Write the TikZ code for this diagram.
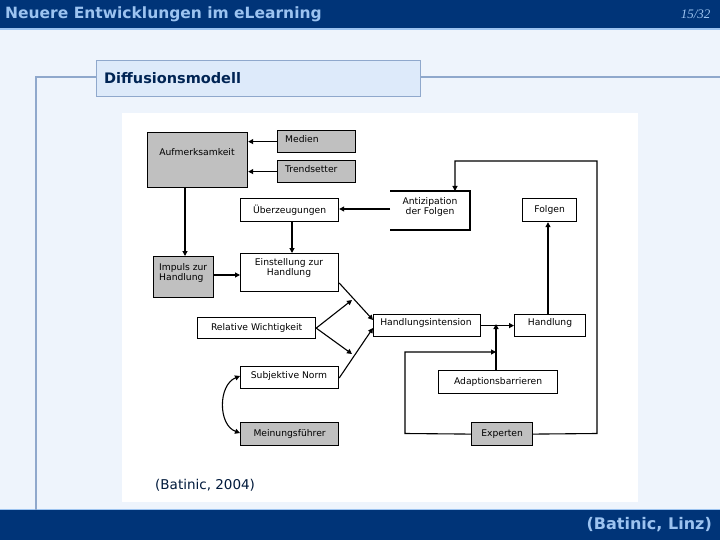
\documentclass[tikz,border=0pt]{standalone}
\usepackage{fontspec}
\setmainfont{DejaVu Sans}
\newfontfamily\serifit{Liberation Serif}
\usetikzlibrary{arrows.meta}
\definecolor{navy}{HTML}{003478}
\definecolor{lblue}{HTML}{9CC3F0}
\definecolor{bgc}{HTML}{EEF4FC}
\definecolor{boxc}{HTML}{DDEAFA}
\definecolor{frm}{HTML}{8FA8CC}
\definecolor{gr}{HTML}{C0C0C0}
\newcommand{\dfont}{\fontsize{9.2}{10.5}\selectfont}
\begin{document}
\begin{tikzpicture}[x=1pt,y=-1pt,
  bx/.style={draw,line width=1.2pt,anchor=north west,inner sep=0pt,align=center,font=\dfont},
  gbx/.style={bx,fill=gr},
  ar/.style={line width=1.1pt,-{Triangle[length=5pt,width=5pt]}},
  tx/.style={font=\dfont,inner sep=0pt,align=center}]
\useasboundingbox (0,0) rectangle (720,540);
\fill[bgc] (0,0) rectangle (720,540);
\fill[navy] (0,0) rectangle (720,28);
\draw[lblue,line width=1.5pt] (0,29) -- (720,29);
\fill[navy] (0,510) rectangle (720,540);
\draw[lblue,line width=1.5pt] (0,509.5) -- (720,509.5);
\node[anchor=west,text=lblue,inner sep=0pt,font=\bfseries\fontsize{15.5}{17}\selectfont] (title) at (5,14) {Neuere Entwicklungen im eLearning};
\node[anchor=east,text=lblue,font=\serifit\itshape\fontsize{13}{14}\selectfont] (pg) at (714,14) {15/32};
\node[anchor=east,text=lblue,inner sep=0pt,font=\bfseries\fontsize{16}{17}\selectfont] (foot) at (712,525) {(Batinic, Linz)};
\draw[frm,line width=1.2pt] (36,510) -- (36,77) -- (96,77);
\draw[frm,line width=1.2pt] (420,77) -- (720,77);
\node[draw=frm,line width=1.2pt,fill=boxc,anchor=north west,minimum width=324pt,minimum height=36pt,inner sep=0pt] (hb) at (96,60) {};
\node[anchor=west,inner sep=0pt,text=navy!70!black,font=\bfseries\fontsize{14.5}{16}\selectfont] (ht) at (104,78) {Diffusionsmodell};
\fill[white] (122,113) rectangle (638,502);
\node[anchor=west,inner sep=0pt,font=\fontsize{13.5}{15}\selectfont,text=navy!50!black] (src) at (155,485) {(Batinic, 2004)};

\node[gbx,minimum width=100pt,minimum height=55pt] (auf) at (147,132) {};
\node[tx] (auft) at (197,152) {Aufmerksamkeit};
\node[gbx,minimum width=78pt,minimum height=22pt] (med) at (277,130) {};
\node[tx,anchor=west] (medt) at (285,139) {Medien};
\node[gbx,minimum width=78pt,minimum height=22pt] (tre) at (277,160) {};
\node[tx,anchor=west] (tret) at (285,169) {Trendsetter};
\node[bx,minimum width=98pt,minimum height=23pt] (ueb) at (240,198) {Überzeugungen};
\node[anchor=north west,minimum width=80pt,minimum height=39pt,inner sep=0pt] (ant) at (390,191) {};
\node[tx] (antt) at (430,207) {Antizipation\\der Folgen};
\draw[line width=1.2pt] (390,191) -- (470,191) -- (470,230) -- (390,230);
\node[bx,minimum width=54pt,minimum height=23pt] (fol) at (522,198) {Folgen};
\node[gbx,minimum width=60pt,minimum height=41pt] (imp) at (153,256) {};
\node[tx,anchor=west,align=left] (impt) at (159,273) {Impuls zur\\Handlung};
\node[bx,minimum width=98pt,minimum height=38pt] (ein) at (240,253) {};
\node[tx] (eint) at (289,268) {Einstellung zur\\Handlung};
\node[bx,minimum width=118pt,minimum height=21pt] (rel) at (197,317) {Relative Wichtigkeit};
\node[bx,minimum width=107pt,minimum height=22pt] (hin) at (373,314) {};
\node[tx] (hint) at (426,323) {Handlungsintension};
\node[bx,minimum width=71pt,minimum height=22pt] (han) at (514,314) {};
\node[tx] (hant) at (550,323) {Handlung};
\node[bx,minimum width=98pt,minimum height=22pt] (sub) at (240,366) {};
\node[tx] (subt) at (289,376) {Subjektive Norm};
\node[bx,minimum width=119pt,minimum height=23pt] (ada) at (438,370) {Adaptionsbarrieren};
\node[gbx,minimum width=98pt,minimum height=23pt] (mei) at (240,422) {Meinungsführer};
\node[gbx,minimum width=61pt,minimum height=23pt] (exp) at (471,422) {Experten};

\coordinate (j1) at (496,324);
\coordinate (j2) at (496,352);
\coordinate (r1) at (352,300);
\coordinate (r2) at (352,354);

\draw[ar] (med.west) -- (auf.east |- med.west);
\draw[ar] (tre.west) -- (auf.east |- tre.west);
\draw[ar] (auf.south -| 185,0) -- (imp.north -| 185,0);
\draw[ar] (imp.east |- 0,275) -- (ein.west |- 0,275);
\draw[ar] (ueb.south -| 292,0) -- (ein.north -| 292,0);
\draw[ar] (ant.west |- 0,209) -- (ueb.east |- 0,209);
\draw[ar] (exp.east) -- (597,433.5) -- (597,161) -- (455,161) -- (ant.north -| 455,0);
\draw[ar] (han.north -| 548,0) -- (fol.south -| 548,0);
\draw[ar] (hin.east) -- (han.west);
\draw[ar] (ada.north -| j1) -- (j1);
\draw[ar] (exp.west) -- (405,433.5) -- (405,352) -- (j2);
\draw[ar] (ein.east |- 0,283) -- (hin.west |- 0,320);
\draw[ar] (rel.east) -- (r1);
\draw[ar] (rel.east) -- (r2);
\draw[ar] (sub.east |- 0,378) -- (hin.west |- 0,328);
\draw[line width=1.1pt,{Triangle[length=5pt,width=5pt]}-{Triangle[length=5pt,width=5pt]}] (sub.west |- 0,376) .. controls (218,385) and (218,425) .. (mei.west |- 0,433);
\end{tikzpicture}
\end{document}
